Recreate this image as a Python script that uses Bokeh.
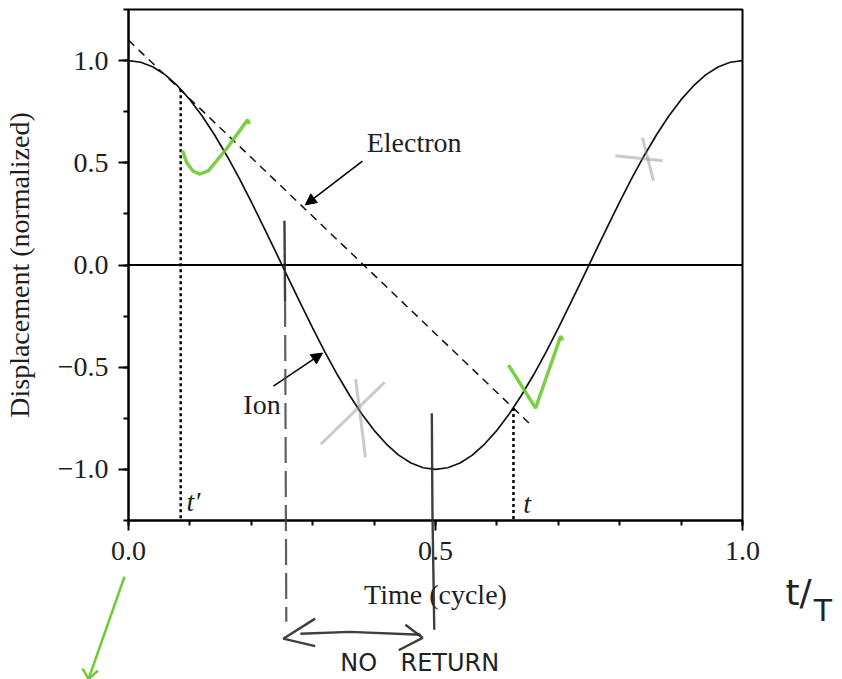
from bokeh.plotting import figure
from bokeh.models import (Range1d, SingleIntervalTicker, CustomJSTickFormatter, Span,
                          Arrow, NormalHead)
from bokeh.core.properties import value
from bokeh.embed import file_html
from bokeh.resources import INLINE

# Ion displacement over one optical cycle
time_cycle = [0.00, 0.02, 0.04, 0.06, 0.08, 0.10, 0.12, 0.14, 0.16, 0.18,
              0.20, 0.22, 0.24, 0.26, 0.28, 0.30, 0.32, 0.34, 0.36, 0.38,
              0.40, 0.42, 0.44, 0.46, 0.48, 0.50, 0.52, 0.54, 0.56, 0.58,
              0.60, 0.62, 0.64, 0.66, 0.68, 0.70, 0.72, 0.74, 0.76, 0.78,
              0.80, 0.82, 0.84, 0.86, 0.88, 0.90, 0.92, 0.94, 0.96, 0.98, 1.00]
ion_displacement = [1.000, 0.992, 0.969, 0.930, 0.876, 0.809, 0.729, 0.637, 0.536, 0.426,
                    0.309, 0.187, 0.063, -0.063, -0.187, -0.309, -0.426, -0.536, -0.637, -0.729,
                    -0.809, -0.876, -0.930, -0.969, -0.992, -1.000, -0.992, -0.969, -0.930, -0.876,
                    -0.809, -0.729, -0.637, -0.536, -0.426, -0.309, -0.187, -0.063, 0.063, 0.187,
                    0.309, 0.426, 0.536, 0.637, 0.729, 0.809, 0.876, 0.930, 0.969, 0.992, 1.000]

# Free electron drifting away along a straight path
electron_t = [0.0, 0.658]
electron_x = [1.10, -0.79]

# Ionization (t') and return (t) instants
t_birth, x_birth = 0.085, 0.86
t_return, x_return = 0.627, -0.70

SERIF = "Liberation Serif"
INK = "#1e1e1e"
FS = "28px"

p = figure(width=842, height=679, output_backend="svg", toolbar_location=None,
           x_range=Range1d(0, 1), y_range=Range1d(-1.25, 1.25),
           min_border_left=128, min_border_right=100,
           min_border_top=9, min_border_bottom=159)
p.grid.visible = False
p.outline_line_color = "black"
p.outline_line_width = 2
p.background_fill_color = "white"
p.border_fill_color = "white"

fmt = CustomJSTickFormatter(code="""
    const s = Math.abs(tick).toFixed(1);
    return tick < -1e-9 ? "\\u2212" + s : s;
""")

p.xaxis.ticker = SingleIntervalTicker(interval=0.5, num_minor_ticks=5)
p.yaxis.ticker = SingleIntervalTicker(interval=0.5, num_minor_ticks=2)
for ax in (p.xaxis[0], p.yaxis[0]):
    ax.formatter = fmt
    ax.axis_line_width = 2
    ax.major_tick_line_width = 2
    ax.minor_tick_line_width = 2
    ax.major_tick_in = 0
    ax.minor_tick_in = 0
    ax.major_tick_out = 10
    ax.minor_tick_out = 5
    ax.major_label_standoff = 10
    ax.major_label_text_font = SERIF
    ax.major_label_text_font_size = FS
    ax.major_label_text_color = INK
    ax.axis_label_text_font = SERIF
    ax.axis_label_text_font_size = FS
    ax.axis_label_text_font_style = "normal"
    ax.axis_label_text_color = INK

p.xaxis.axis_label = "Time (cycle)"
p.yaxis.axis_label = "Displacement (normalized)"
p.xaxis.major_label_standoff = 11
p.xaxis.axis_label_standoff = 16
p.yaxis.axis_label_standoff = 20

# zero line
p.add_layout(Span(location=0, dimension="width", line_color="black", line_width=2))

# ion curve and electron path
p.line(time_cycle, ion_displacement, line_color="#111111", line_width=1.7)
p.line(electron_t, electron_x, line_color="#111111", line_width=1.5, line_dash="8 6")

# markers of t' and t
p.segment(x0=[t_birth, t_return], y0=[x_birth, x_return],
          x1=[t_birth, t_return], y1=[-1.25, -1.25],
          line_color="black", line_width=2.5, line_dash="3 3")


def note(xs, ys, texts, size=FS, font=SERIF, style="normal", color=INK):
    r = p.text(x=xs, y=ys, text=texts, text_font=value(font),
               text_font_size=value(size), text_font_style=style,
               text_color=color, text_baseline="alphabetic", text_align="left")
    r.level = "overlay"
    return r


note([0.388, 0.187], [0.598, -0.681], ["Electron", "Ion"])
note([0.0945, 0.643], [-1.157, -1.167], ["t\u2032", "t"], style="italic")

p.add_layout(Arrow(x_start=0.381, y_start=0.508, x_end=0.288, y_end=0.294,
                   line_width=1.5, line_color="black",
                   end=NormalHead(size=11, fill_color="black", line_color="black")))
p.add_layout(Arrow(x_start=0.236, y_start=-0.593, x_end=0.316, y_end=-0.431,
                   line_width=1.5, line_color="black",
                   end=NormalHead(size=11, fill_color="black", line_color="black")))

# handwritten notes on top of the printed figure
GREEN = "#6ccb2e"
checks = p.multi_line(
    xs=[[0.088, 0.095, 0.105, 0.116, 0.13, 0.16, 0.194, 0.197],
        [0.619, 0.640, 0.663, 0.684, 0.704, 0.707]],
    ys=[[0.56, 0.50, 0.46, 0.445, 0.46, 0.57, 0.71, 0.69],
        [-0.49, -0.59, -0.70, -0.52, -0.348, -0.368]],
    line_color=GREEN, line_width=3.5, line_alpha=0.9)
checks.level = "overlay"

crosses = p.multi_line(
    xs=[[0.313, 0.417], [0.370, 0.386], [0.793, 0.870], [0.837, 0.855]],
    ys=[[-0.877, -0.574], [-0.559, -0.941], [0.534, 0.510], [0.623, 0.412]],
    line_color="#8a8a8a", line_width=3, line_alpha=0.45)
crosses.level = "overlay"

pencil = p.multi_line(
    xs=[[0.254, 0.255], [0.494, 0.495, 0.498],
        [0.280, 0.360, 0.476],
        [0.304, 0.252, 0.304], [0.451, 0.479, 0.440]],
    ys=[[0.216, -0.176], [-0.725, -1.2, -1.784],
        [-1.804, -1.795, -1.809],
        [-1.730, -1.828, -1.865], [-1.760, -1.824, -1.885]],
    line_color="#2a2a2a", line_width=2.4, line_alpha=0.9)
pencil.level = "overlay"

pencil_dash = p.line([0.255, 0.257], [-0.176, -1.745], line_color="#444444",
                     line_width=2.2, line_alpha=0.85, line_dash="26 8")
pencil_dash.level = "overlay"

green_arrow = p.multi_line(
    xs=[[-0.0065, -0.065], [-0.075, -0.065, -0.050]],
    ys=[[-1.525, -2.025], [-1.975, -2.025, -1.985]],
    line_color=GREEN, line_width=2.5)
green_arrow.level = "overlay"

note([0.345, 0.443], [-1.946, -1.946], ["NO", "RETURN"], size="24px",
     font="DejaVu Sans", color="#222222")
note([1.070], [-1.60], ["t/"], size="36px", font="DejaVu Sans", color="#222222")
note([1.116], [-1.691], ["T"], size="30px", font="DejaVu Sans", color="#222222")

open("out.html", "w").write(file_html(p, INLINE))
